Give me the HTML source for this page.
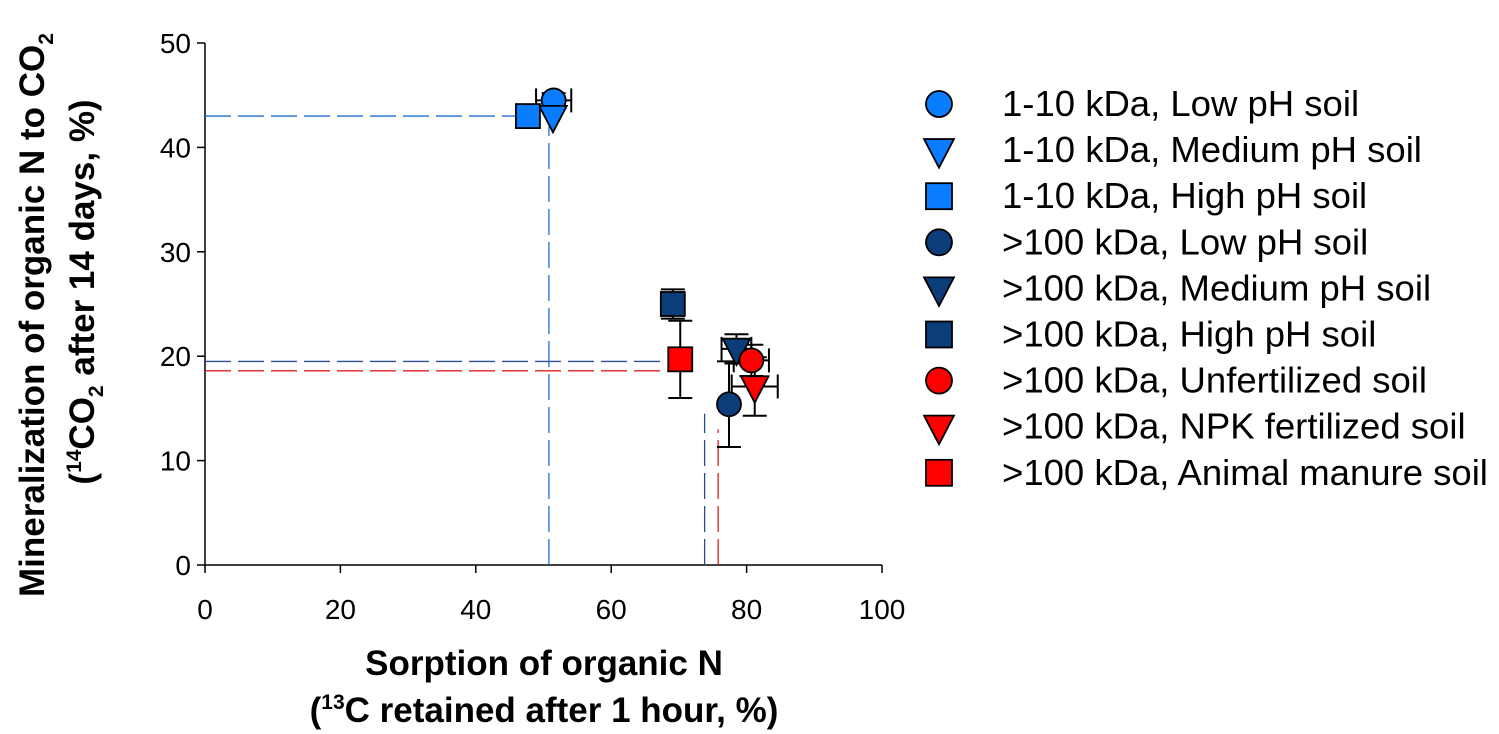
<!DOCTYPE html>
<html><head><meta charset="utf-8"><style>
body{margin:0;background:#fff;}
svg{display:block;font-family:"Liberation Sans",Arial,sans-serif;}
</style></head><body>
<svg id="c" width="1499" height="734" viewBox="0 0 1499 734"></svg>
<script>
const seriesNames=["1-10 kDa, Low pH soil","1-10 kDa, Medium pH soil","1-10 kDa, High pH soil",">100 kDa, Low pH soil",">100 kDa, Medium pH soil",">100 kDa, High pH soil",">100 kDa, Unfertilized soil",">100 kDa, NPK fertilized soil",">100 kDa, Animal manure soil"];
const seriesColors=["#0a7cff","#0a7cff","#0a7cff","#0b3d7a","#0b3d7a","#0b3d7a","#ff0000","#ff0000","#ff0000"];
const seriesShapes=["circle","triangle","square","circle","triangle","square","circle","triangle","square"];
const xValues=[51.5,51.4,47.7,77.4,78.5,69.1,80.7,81.2,70.2];
const yValues=[44.5,43.0,43.0,15.4,20.7,25.0,19.6,17.1,19.7];
const xErr=[2.6,0,0,0,2.2,0,2.6,3.4,1.2];
const yErr=[0.7,0,0,4.1,1.4,1.4,1.5,2.8,3.7];
const refH=[[43.0,0,46],[19.5,0,68],[18.6,0,69]];
const refV=[[50.8,0,42],[73.8,0,14.5],[75.8,0,13]];
const refColors=["#1e6fd0","#2a4f8f","#e02020"];
const xTicks=[0,20,40,60,80,100];
const yTicks=[0,10,20,30,40,50];
const NS="http://www.w3.org/2000/svg";
const svg=document.getElementById('c');
const X0=205,X1=882,Y0=565,Y1=43;
const sx=v=>X0+(v-0)/(100-0)*(X1-X0);
const sy=v=>Y0-(v-0)/(50-0)*(Y0-Y1);
function el(t,a,p){const e=document.createElementNS(NS,t);for(const k in a)e.setAttribute(k,a[k]);(p||svg).appendChild(e);return e;}
let a=el('line',{x1:X0,y1:Y1,x2:X0,y2:Y0,stroke:'#000','stroke-width':1.5});

a=el('line',{x1:X0,y1:Y0,x2:X1,y2:Y0,stroke:'#000','stroke-width':1.5});

xTicks.forEach(t=>{el('line',{x1:sx(t),y1:Y0,x2:sx(t),y2:Y0+8,stroke:'#000','stroke-width':1.5});
 const tx=el('text',{x:sx(t),y:Y0+54,'text-anchor':'middle','font-size':28});tx.textContent=t;
 });
yTicks.forEach(t=>{el('line',{x1:X0-8,y1:sy(t),x2:X0,y2:sy(t),stroke:'#000','stroke-width':1.5});
 const tx=el('text',{x:X0-14,y:sy(t)+10,'text-anchor':'end','font-size':28});tx.textContent=t;
 });
refH.forEach((r,i)=>{const l=el('line',{x1:sx(r[1]),y1:sy(r[0]),x2:sx(r[2]),y2:sy(r[0]),stroke:refColors[i],'stroke-width':1.3,'stroke-dasharray':'26,7'});
 });
refV.forEach((r,i)=>{const l=el('line',{x1:sx(r[0]),y1:sy(r[1]),x2:sx(r[0]),y2:sy(r[2]),stroke:refColors[i],'stroke-width':1.3,'stroke-dasharray':'26,7'});
 });
function marker(g,shape,cx,cy,col,s){
 if(shape==='circle')return el('circle',{cx:cx,cy:cy,r:s,fill:col,stroke:'#000','stroke-width':1.8},g);
 if(shape==='square')return el('rect',{x:cx-s,y:cy-s,width:2*s,height:2*s,fill:col,stroke:'#000','stroke-width':1.8},g);
 return el('polygon',{points:`${cx-s*1.15},${cy-s*0.85} ${cx+s*1.15},${cy-s*0.85} ${cx},${cy+s*1.35}`,fill:col,stroke:'#000','stroke-width':1.8},g);
}
xValues.forEach((x,i)=>{const g=el('g',{});
 
 const cx=sx(x),cy=sy(yValues[i]);
 if(yErr[i]>0){el('line',{x1:cx,y1:sy(yValues[i]+yErr[i]),x2:cx,y2:sy(yValues[i]-yErr[i]),stroke:'#000','stroke-width':2},g);
  [yValues[i]+yErr[i],yValues[i]-yErr[i]].forEach(v=>el('line',{x1:cx-12,y1:sy(v),x2:cx+12,y2:sy(v),stroke:'#000','stroke-width':2},g));}
 if(xErr[i]>0){el('line',{x1:sx(x-xErr[i]),y1:cy,x2:sx(x+xErr[i]),y2:cy,stroke:'#000','stroke-width':2},g);
  [x-xErr[i],x+xErr[i]].forEach(v=>el('line',{x1:sx(v),y1:cy-12,x2:sx(v),y2:cy+12,stroke:'#000','stroke-width':2},g));}
});
xValues.forEach((x,i)=>{const m=marker(svg,seriesShapes[i],sx(x),sy(yValues[i]),seriesColors[i],12);
 });
seriesNames.forEach((n,i)=>{const g=el('g',{});
 
 const y=104+i*46.1;
 marker(g,seriesShapes[i],939,y,seriesColors[i],13);
 const t=el('text',{x:1002,y:y+12,'font-size':36.5},g);t.textContent=n;});
let t=el('text',{x:544,y:675,'text-anchor':'middle','font-size':35,'font-weight':'bold'});t.textContent='Sorption of organic N';

t=el('text',{x:544,y:722,'text-anchor':'middle','font-size':35,'font-weight':'bold'});
t.innerHTML='(<tspan font-size="21" dy="-13">13</tspan><tspan dy="13">C retained after 1 hour, %)</tspan>';

t=el('text',{x:0,y:0,'text-anchor':'middle','font-size':35,'font-weight':'bold',transform:'translate(44,315) rotate(-90)'});
t.innerHTML='Mineralization of organic N to CO<tspan font-size="21" dy="9">2</tspan>';

t=el('text',{x:0,y:0,'text-anchor':'middle','font-size':35,'font-weight':'bold',transform:'translate(94,292) rotate(-90)'});
t.innerHTML='(<tspan font-size="21" dy="-13">14</tspan><tspan dy="13">CO</tspan><tspan font-size="21" dy="9">2</tspan><tspan dy="-9"> after 14 days, %)</tspan>';

</script>
</body></html>
